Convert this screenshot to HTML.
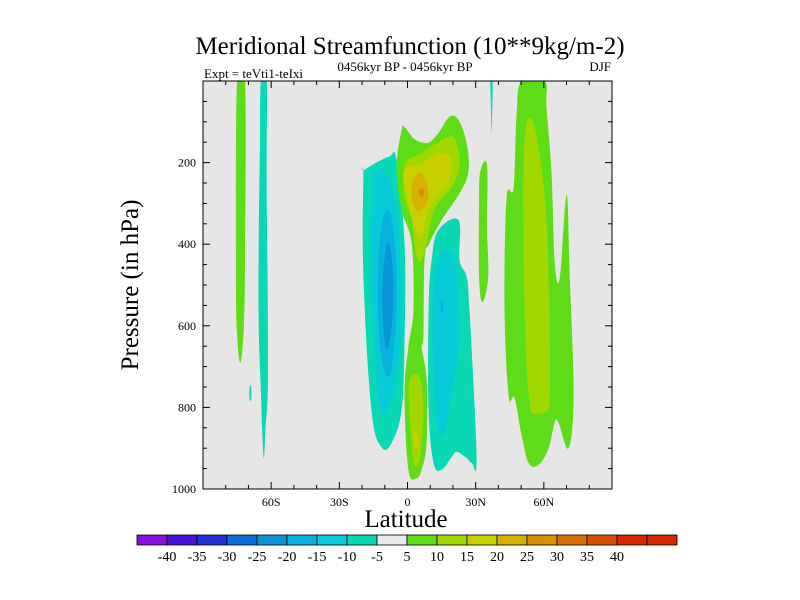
<!DOCTYPE html>
<html><head><meta charset="utf-8"><style>
body{margin:0;background:#fff;}
svg{display:block;font-family:"Liberation Serif",serif;}
</style></head><body>
<svg id="chart" width="800" height="600" viewBox="0 0 800 600">
<text x="410" y="54" font-size="25" text-anchor="middle">Meridional Streamfunction (10**9kg/m-2)</text>
<text x="405" y="71" font-size="13" text-anchor="middle">0456kyr BP - 0456kyr BP</text>
<text x="204" y="78" font-size="13">Expt = teVti1-teIxi</text>
<text x="611" y="71" font-size="13" text-anchor="end">DJF</text>
<rect x="203" y="81" width="409" height="408" fill="#e6e6e6"/>
<g id="contours"></g>
<g id="axes"></g>
<rect x="203" y="81" width="409" height="408" fill="none" stroke="#000" stroke-width="1"/>
<text x="406" y="527" font-size="25" text-anchor="middle">Latitude</text>
<text transform="translate(138,285) rotate(-90)" font-size="25" text-anchor="middle">Pressure (in hPa)</text>
<g id="colorbar"></g>
</svg>
<script>
// contour levels (lower bound of each fill band) and colors
const levelLabels = [-40,-35,-30,-25,-20,-15,-10,-5,5,10,15,20,25,30,35,40];
const levelColors = ["#8a10e0","#4a14d8","#2232d8","#0a6ed8","#0a94d8","#08b2dc","#08cad8","#08d8b4","#e8e8e8","#5edc18","#a0d800","#c8d000","#d8b000","#d89000","#d87000","#d85000","#d82800","#d82800"];
// Each region: [colorIndex, [[lat, pressure], ...]]
const regionLevels = [9,7,7, 7,6,5,4, 9,10,11,12,13, 10,11, 7,6,5, 9,7, 9,10];
const regionShapes = [
 [[-75,0],[-71.5,0],[-71.5,430],[-72,600],[-73.5,690],[-75,620],[-75.5,450]],
 [[-64.5,0],[-62,0],[-62,250],[-61.5,550],[-61.5,760],[-62.5,850],[-63.2,925],[-64,850],[-64.5,760],[-65.5,600],[-65.5,400],[-65,180]],
 [[-69.5,750],[-68.8,750],[-68.8,780],[-69.5,780]],
 [[-18.9,218],[-8.4,186],[-4.8,194],[-1.3,397],[-1.3,642],[-2.6,806],[-7,887],[-11.5,897],[-15.9,806],[-19.4,480],[-19.4,235]],
 [[-15,227],[-10.1,223],[-4.8,316],[-2.6,561],[-4.8,725],[-8.4,801],[-12.8,782],[-15.9,480],[-15,275]],
 [[-10.1,324],[-7,340],[-4.8,480],[-5.7,642],[-8.4,725],[-12.3,642],[-12.8,439]],
 [[-8.4,397],[-6.2,480],[-7,603],[-9.3,659],[-11,561],[-10.6,463]],
 [[-1.3,113],[2.6,140],[6.2,150],[9.7,150],[13.7,127],[18.5,88],[22.5,96],[26,152],[26.9,218],[23.8,267],[15,341],[9.7,397],[7.5,439],[7,627],[6.2,652],[8.4,733],[8.4,887],[6.2,953],[4,973],[0.4,953],[-1.3,765],[0.4,652],[2.6,561],[1.8,397],[-2.6,316],[-4.8,211],[-2.6,120]],
 [[-1.3,206],[6.2,176],[18,137],[21.6,152],[22.9,211],[19.4,260],[11.9,316],[8.4,397],[6.2,439],[4,431],[1.8,341],[-1.3,284]],
 [[-1.3,218],[6.2,201],[15,176],[19.4,194],[18,250],[10.6,299],[7,365],[4.8,382],[1.8,333],[-0.4,275]],
 [[2.6,243],[6.2,225],[9.3,275],[7.5,309],[4,316],[1.8,284]],
 [[4.8,272],[6.2,262],[7.5,272],[6.2,285]],
 [[0.9,733],[5.3,725],[7,806],[5.3,929],[2.6,929],[0.9,806]],
 [[3.1,855],[4.8,880],[4.4,904],[3.1,887]],
 [[13.7,365],[22.5,341],[22.9,439],[26,480],[27.3,561],[30.4,922],[28.2,936],[26,924],[21.6,909],[19.4,922],[15,953],[11.5,936],[9.3,806],[9.3,561],[10.6,439]],
 [[14.1,431],[19.4,422],[21.6,480],[22.5,642],[19.4,765],[15.9,868],[12.8,831],[11.5,684],[11.5,520]],
 [[14.5,540],[16,555],[15,572]],
 [[32,223],[35,206],[35,360],[35.5,480],[33,542],[31.5,480],[31.5,300]],
 [[36.5,0],[37.5,0],[37.2,100],[37,125],[36.7,60]],
 [[50.2,0],[60.4,0],[61.2,66],[63.4,230],[64.8,443],[67,483],[70,279],[71.4,475],[73.1,770],[70.9,900],[66.5,838],[64.8,836],[62.1,900],[57.7,941],[53.3,936],[50.2,868],[47.1,777],[44.5,770],[42.7,556],[43.6,287],[46.7,262],[48,83]],
 [[54.6,91],[59.9,255],[62.1,475],[62.6,770],[60.4,811],[57.7,814],[53.7,787],[51.5,556],[51.1,189]]
];
const xTicks = [-60,-30,0,30,60];
const xTickLabels = ["60S","30S","0","30N","60N"];
const yTicks = [200,400,600,800,1000];

const NS="http://www.w3.org/2000/svg";
const X0=203,X1=612,Y0=81,Y1=489;
function xs(lat){return X0+(lat+90)/180*(X1-X0);}
function ys(p){return Y0+p/1000*(Y1-Y0);}
function smoothPath(P){
  const n=P.length;let d='M'+P[0][0].toFixed(1)+','+P[0][1].toFixed(1);
  const t=0.18;
  for(let i=0;i<n;i++){
    const p0=P[(i-1+n)%n],p1=P[i],p2=P[(i+1)%n],p3=P[(i+2)%n];
    const c1=[p1[0]+(p2[0]-p0[0])*t,p1[1]+(p2[1]-p0[1])*t];
    const c2=[p2[0]-(p3[0]-p1[0])*t,p2[1]-(p3[1]-p1[1])*t];
    d+='C'+c1[0].toFixed(1)+','+c1[1].toFixed(1)+' '+c2[0].toFixed(1)+','+c2[1].toFixed(1)+' '+p2[0].toFixed(1)+','+p2[1].toFixed(1);
  }
  return d+'Z';
}

const cg=document.getElementById('contours');
const clip=document.createElementNS(NS,'clipPath');clip.setAttribute('id','plotclip');
const cr=document.createElementNS(NS,'rect');cr.setAttribute('x',X0);cr.setAttribute('y',Y0);cr.setAttribute('width',X1-X0);cr.setAttribute('height',Y1-Y0);
clip.appendChild(cr);document.getElementById('chart').appendChild(clip);
cg.setAttribute('clip-path','url(#plotclip)');
regionShapes.forEach((pts,i)=>{
  const el=document.createElementNS(NS,'path');
  el.setAttribute('d',smoothPath(pts.map(q=>[xs(q[0]),ys(q[1])])));
  el.setAttribute('fill',levelColors[regionLevels[i]]);
  
  
  cg.appendChild(el);
});

const ax=document.getElementById('axes');
function line(x1,y1,x2,y2,name){
  const l=document.createElementNS(NS,'line');
  l.setAttribute('x1',x1);l.setAttribute('y1',y1);l.setAttribute('x2',x2);l.setAttribute('y2',y2);
  l.setAttribute('stroke','#000');l.setAttribute('stroke-width','1');
  
  
  ax.appendChild(l);
}
function txt(x,y,s,anchor,size,g,name){
  const t=document.createElementNS(NS,'text');
  t.setAttribute('x',x);t.setAttribute('y',y);t.setAttribute('text-anchor',anchor);
  t.setAttribute('font-size',size);t.textContent=s;
  
  
  g.appendChild(t);
}
for(let lat=-80;lat<=80;lat+=10){
  const major=lat%30===0, len=major?7:4, x=xs(lat);
  line(x,Y1,x,Y1-len,'x-tick');line(x,Y0,x,Y0+len,'x-tick');
}
xTicks.forEach((v,i)=>txt(xs(v),506,xTickLabels[i],'middle',12,ax,'x-tick-label'));
for(let p=50;p<1000;p+=50){
  const major=p%200===0,len=major?7:4,y=ys(p);
  line(X0,y,X0+len,y,'y-tick');line(X1,y,X1-len,y,'y-tick');
}
yTicks.forEach(v=>txt(196,ys(v)+4,String(v),'end',12,ax,'y-tick-label'));

const cb=document.getElementById('colorbar');
levelColors.forEach((c,i)=>{
  const r=document.createElementNS(NS,'rect');
  r.setAttribute('x',137+30*i);r.setAttribute('y',535);r.setAttribute('width',30);r.setAttribute('height',10);
  r.setAttribute('fill',c);r.setAttribute('stroke','#000');r.setAttribute('stroke-width','0.8');
  
  
  cb.appendChild(r);
});
levelLabels.forEach((v,i)=>txt(137+30*(i+1),561,String(v),'middle',14,cb,'colorbar-label'));
</script>
</body></html>
